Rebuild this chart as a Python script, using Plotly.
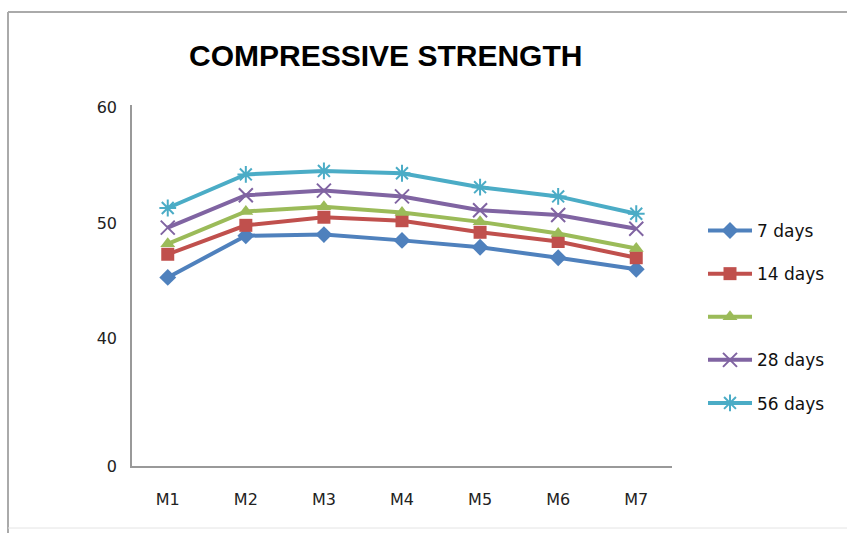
import plotly.graph_objects as go

# Mixes M1..M7 and compressive strength at each curing age
mixes = ["M1", "M2", "M3", "M4", "M5", "M6", "M7"]
days_7 = [45.3, 48.9, 49.0, 48.5, 47.9, 47.0, 46.0]
days_14 = [47.3, 49.8, 50.5, 50.2, 49.2, 48.4, 47.0]
days_21 = [48.2, 51.0, 51.4, 50.9, 50.1, 49.1, 47.8]
days_28 = [49.6, 52.4, 52.8, 52.3, 51.1, 50.7, 49.5]
days_56 = [51.3, 54.2, 54.5, 54.3, 53.1, 52.3, 50.8]

series_names = ["7 days", "14 days", " ", "28 days", "56 days"]
series_values = [days_7, days_14, days_21, days_28, days_56]
colors = ["#4F81BD", "#C0504D", "#9BBB59", "#8064A2", "#4BACC6"]
symbols = ["diamond", "square", "triangle-up", "x-thin", "asterisk"]

y_tickvals = [29, 40, 50, 60]
y_ticktext = ["0", "40", "50", "60"]

W, H = 847, 533
L, R, T, B = 132, 175, 105, 67
pw, ph = W - L - R, H - T - B


def px_x(p):
    return (p - L) / pw


def px_y(p):
    return (H - B - p) / ph


fig = go.Figure()
for i, (name, vals, col, sym) in enumerate(zip(series_names, series_values, colors, symbols)):
    open_sym = sym in ("x-thin", "asterisk")
    fig.add_trace(go.Scatter(
        x=mixes, y=vals, name=name, mode="lines+markers",
        legendgroup=f"g{i}",
        line=dict(color=col, width=4),
        marker=dict(symbol=sym, size=13 if not open_sym else 14, color=col,
                    line=dict(color=col, width=2 if open_sym else 0)),
    ))

border = dict(color="#aaa", width=2)

fig.update_layout(
    width=W, height=H,
    margin=dict(l=L, r=R, t=T, b=B),
    paper_bgcolor="white", plot_bgcolor="white",
    font=dict(family="DejaVu Sans, sans-serif", color="#222", size=16),
    showlegend=True,
    legend=dict(x=px_x(703), y=px_y(213), xanchor="left", yanchor="top",
                font=dict(size=17, color="#111"), tracegroupgap=18,
                bgcolor="rgba(0,0,0,0)", itemwidth=44),
    xaxis=dict(showgrid=False, showline=True, linecolor="#999", linewidth=1.5,
               ticks="", ticklabelstandoff=18, tickfont=dict(size=16, color="#222")),
    yaxis=dict(range=[29, 60.2], showgrid=False, showline=True, linecolor="#999",
               linewidth=1.5, ticks="", zeroline=False,
               tickvals=y_tickvals, ticktext=y_ticktext, ticklabelstandoff=10,
               tickfont=dict(size=16, color="#222")),
    annotations=[dict(
        text="<b>COMPRESSIVE STRENGTH</b>", xref="paper", yref="paper",
        x=px_x(385), y=px_y(55), xanchor="center", yanchor="middle",
        showarrow=False,
        font=dict(family="Liberation Sans Narrow, Arial Narrow, sans-serif", size=30, color="#000"),
    )],
    shapes=[
        dict(type="line", xref="paper", yref="paper",
             x0=px_x(8), x1=px_x(847), y0=px_y(12), y1=px_y(12), line=border),
        dict(type="line", xref="paper", yref="paper",
             x0=px_x(8), x1=px_x(8), y0=px_y(12), y1=px_y(533), line=border),
        dict(type="line", xref="paper", yref="paper",
             x0=px_x(8), x1=px_x(847), y0=px_y(528), y1=px_y(528),
             line=dict(color="#e4e4e4", width=1)),
    ],
)

fig.write_html("out.html")
